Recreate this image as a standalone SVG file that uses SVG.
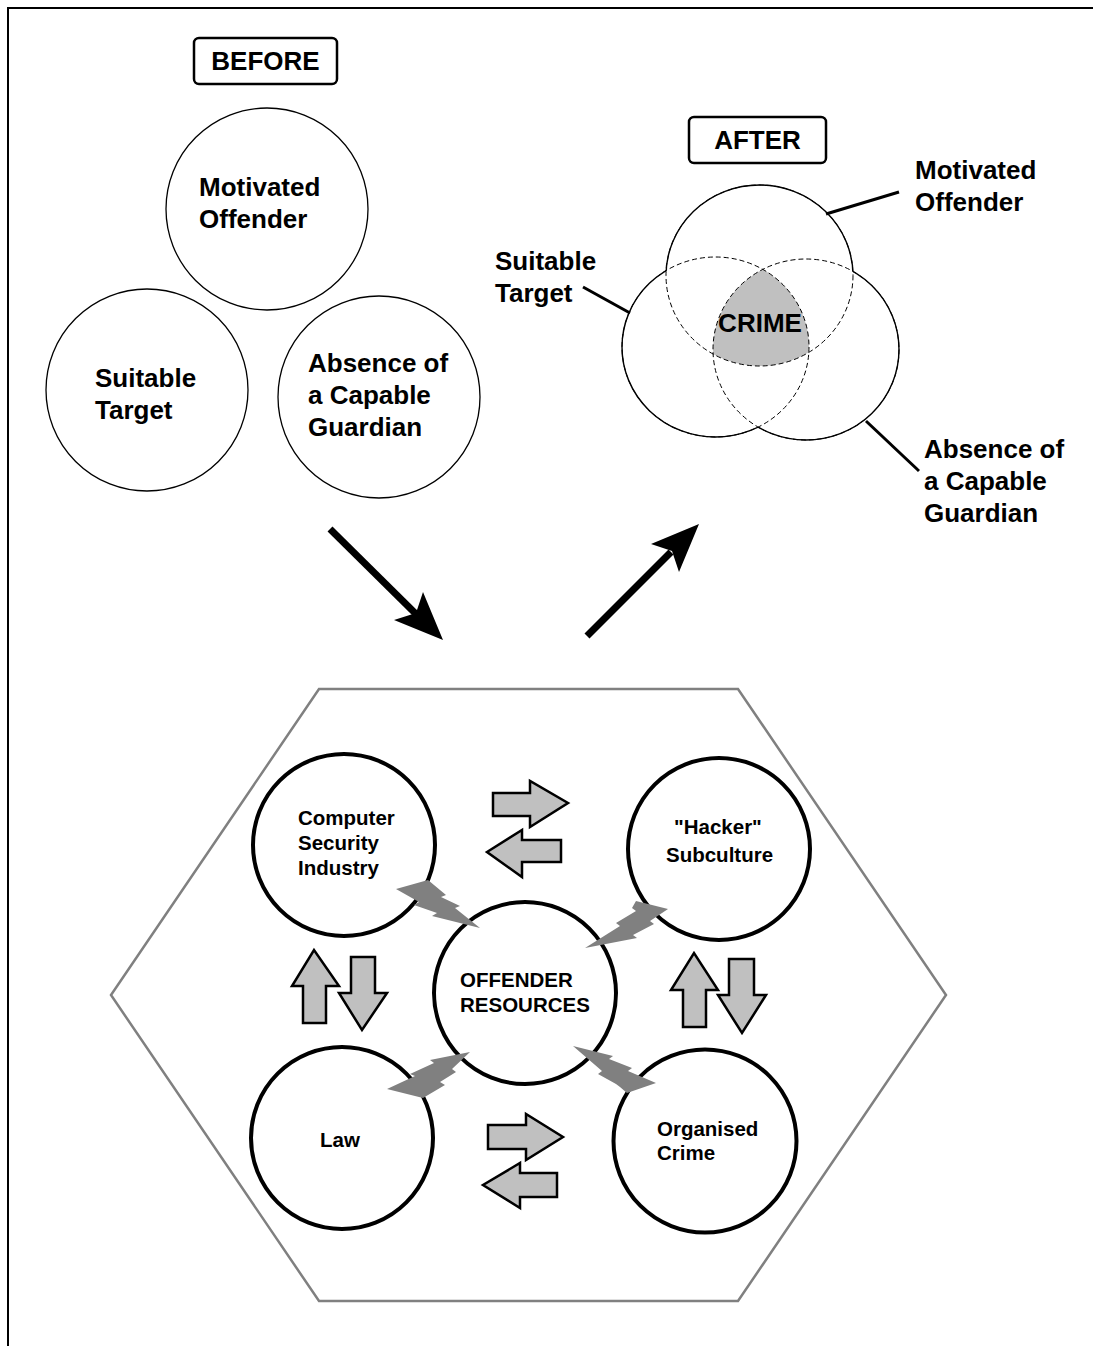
<svg xmlns="http://www.w3.org/2000/svg" width="1093" height="1346" viewBox="0 0 1093 1346">
  <style>
    .lbl { font-family: "Liberation Sans", Arial, sans-serif; font-weight: bold; fill: #000; }
    .big { font-size: 26px; }
    .small { font-size: 20.5px; }
    .ring { fill: #fff; stroke: #000; stroke-width: 1.3; }
    .node { fill: #fff; stroke: #000; stroke-width: 4; }
    .tag { fill: #fff; stroke: #000; stroke-width: 2.5; }
    .block { fill: #c0c0c0; stroke: #000; stroke-width: 2.5; stroke-linejoin: miter; }
    .bolt { fill: #808080; stroke: none; }
    .lead { stroke: #000; stroke-width: 3; fill: none; }
    .dash { fill: none; stroke: #000; stroke-width: 1; stroke-dasharray: 5 3; }
    .solid { fill: none; stroke: #000; stroke-width: 1.4; }
  </style>
  <defs>
    <clipPath id="clipLeft"><ellipse cx="715.5" cy="347" rx="93.5" ry="90"/></clipPath>
    <clipPath id="clipRight"><ellipse cx="806" cy="349.5" rx="93" ry="90.5"/></clipPath>
    <mask id="outsideLR">
      <rect x="0" y="0" width="1093" height="1346" fill="#fff"/>
      <ellipse cx="715.5" cy="347" rx="93.5" ry="90" fill="#000"/>
      <ellipse cx="806" cy="349.5" rx="93" ry="90.5" fill="#000"/>
    </mask>
    <mask id="outsideTR">
      <rect x="0" y="0" width="1093" height="1346" fill="#fff"/>
      <ellipse cx="759.5" cy="275.5" rx="93.5" ry="90.5" fill="#000"/>
      <ellipse cx="806" cy="349.5" rx="93" ry="90.5" fill="#000"/>
    </mask>
    <mask id="outsideTL">
      <rect x="0" y="0" width="1093" height="1346" fill="#fff"/>
      <ellipse cx="759.5" cy="275.5" rx="93.5" ry="90.5" fill="#000"/>
      <ellipse cx="715.5" cy="347" rx="93.5" ry="90" fill="#000"/>
    </mask>
  </defs>

  <rect x="0" y="0" width="1093" height="1346" fill="#fff"/>

  <!-- frame -->
  <path d="M8 1346 V8 H1093" fill="none" stroke="#000" stroke-width="2"/>

  <!-- BEFORE -->
  <g id="before-tag">
    <rect class="tag" x="194" y="38" width="143" height="46" rx="5"/>
    <text class="lbl big" x="265.5" y="70" text-anchor="middle">BEFORE</text>
  </g>
  <g id="before-offender">
    <circle class="ring" cx="267" cy="209" r="101"/>
    <text class="lbl big" x="199" y="196">Motivated</text>
    <text class="lbl big" x="199" y="228">Offender</text>
  </g>
  <g id="before-target">
    <circle class="ring" cx="147" cy="390" r="101"/>
    <text class="lbl big" x="95" y="387">Suitable</text>
    <text class="lbl big" x="95" y="419">Target</text>
  </g>
  <g id="before-guardian">
    <circle class="ring" cx="379" cy="397" r="101"/>
    <text class="lbl big" x="308" y="372">Absence of</text>
    <text class="lbl big" x="308" y="404">a Capable</text>
    <text class="lbl big" x="308" y="436">Guardian</text>
  </g>

  <!-- AFTER -->
  <g id="after-tag">
    <rect class="tag" x="689" y="117" width="137" height="46" rx="5"/>
    <text class="lbl big" x="757.5" y="149" text-anchor="middle">AFTER</text>
  </g>
  <g id="after-venn">
    <!-- overlap of all three -->
    <g clip-path="url(#clipRight)">
      <ellipse cx="759.5" cy="275.5" rx="93.5" ry="90.5" fill="#c0c0c0" clip-path="url(#clipLeft)"/>
    </g>
    <!-- inner arcs dashed -->
    <ellipse class="dash" cx="759.5" cy="275.5" rx="93.5" ry="90.5"/>
    <ellipse class="dash" cx="715.5" cy="347" rx="93.5" ry="90"/>
    <ellipse class="dash" cx="806" cy="349.5" rx="93" ry="90.5"/>
    <!-- outer arcs solid -->
    <ellipse class="solid" cx="759.5" cy="275.5" rx="93.5" ry="90.5" mask="url(#outsideLR)"/>
    <ellipse class="solid" cx="715.5" cy="347" rx="93.5" ry="90" mask="url(#outsideTR)"/>
    <ellipse class="solid" cx="806" cy="349.5" rx="93" ry="90.5" mask="url(#outsideTL)"/>
    <text class="lbl big" x="760" y="332" text-anchor="middle">CRIME</text>
  </g>
  <g id="after-offender">
    <line class="lead" x1="826" y1="214" x2="899" y2="192"/>
    <text class="lbl big" x="915" y="179">Motivated</text>
    <text class="lbl big" x="915" y="211">Offender</text>
  </g>
  <g id="after-target">
    <line class="lead" x1="583" y1="287" x2="630" y2="313"/>
    <text class="lbl big" x="495" y="270">Suitable</text>
    <text class="lbl big" x="495" y="302">Target</text>
  </g>
  <g id="after-guardian">
    <line class="lead" x1="866" y1="421" x2="919" y2="471"/>
    <text class="lbl big" x="924" y="458">Absence of</text>
    <text class="lbl big" x="924" y="490">a Capable</text>
    <text class="lbl big" x="924" y="522">Guardian</text>
  </g>

  <!-- transition arrows -->
  <g id="transition-arrows">
    <line x1="330" y1="529" x2="418" y2="616" stroke="#000" stroke-width="7"/>
    <polygon points="443,640 394,620 416,613 423,592" fill="#000"/>
    <line x1="587" y1="636" x2="671" y2="552" stroke="#000" stroke-width="7"/>
    <polygon points="699,524 679,572 672,551 651,544" fill="#000"/>
  </g>

  <!-- resources hexagon -->
  <g id="hexagon">
    <polygon points="319,689 738,689 946,995 738,1301 319,1301 111,995" fill="none" stroke="#808080" stroke-width="2.5"/>
  </g>

  <!-- resource nodes -->
  <g id="node-security">
    <circle class="node" cx="344" cy="845" r="91"/>
    <text class="lbl small" x="298" y="825">Computer</text>
    <text class="lbl small" x="298" y="850">Security</text>
    <text class="lbl small" x="298" y="875">Industry</text>
  </g>
  <g id="node-hacker">
    <circle class="node" cx="719" cy="849" r="91"/>
    <text class="lbl small" x="674" y="834">"Hacker"</text>
    <text class="lbl small" x="666" y="862">Subculture</text>
  </g>
  <g id="node-resources">
    <circle class="node" cx="525" cy="993" r="91"/>
    <text class="lbl small" x="460" y="987">OFFENDER</text>
    <text class="lbl small" x="460" y="1012">RESOURCES</text>
  </g>
  <g id="node-law">
    <circle class="node" cx="342" cy="1138" r="91"/>
    <text class="lbl small" x="340" y="1147" text-anchor="middle">Law</text>
  </g>
  <g id="node-organised">
    <circle class="node" cx="705" cy="1141" r="91.5"/>
    <text class="lbl small" x="657" y="1136">Organised</text>
    <text class="lbl small" x="657" y="1160">Crime</text>
  </g>

  <!-- interaction arrows and lightning links -->
  <g id="connectors">
    <polygon class="block" points="493,793 530,793 530,781 568,803 530,827 530,816 493,816"/>
    <polygon class="block" points="561,840 522,840 522,830 487,852 522,877 522,862 561,862"/>
    <polygon class="block" points="488,1125 526,1125 526,1114 563,1137 526,1160 526,1149 488,1149"/>
    <polygon class="block" points="557,1173 520,1173 520,1163 483,1185 520,1208 520,1197 557,1197"/>
    <polygon class="block" points="303,1023 303,986 292,986 314,950 339,986 326,986 326,1023"/>
    <polygon class="block" points="351,957 375,957 375,993 387,993 362,1030 339,993 351,993"/>
    <polygon class="block" points="683,1027 683,990 671,990 694,953 718,990 706,990 706,1027"/>
    <polygon class="block" points="729,959 754,959 754,995 766,995 742,1033 718,995 729,995"/>

    <polygon class="bolt" points="396,889 428,880 446,895 441,897 460,906 455,908 480,928 432,916 437,913 414,905 419,902"/>
    <polygon class="bolt" points="585,948 620,926 616,923 636,911 632,908 636,901 668,909 650,921 654,924 633,935 637,938"/>
    <polygon class="bolt" points="387,1089 415,1076 410,1074 434,1063 430,1060 470,1052 452,1069 456,1072 440,1082 445,1085 423,1098"/>
    <polygon class="bolt" points="573,1046 613,1056 609,1059 632,1068 628,1071 656,1083 627,1093 620,1087 616,1084 598,1074 602,1071"/>
  </g>
</svg>
